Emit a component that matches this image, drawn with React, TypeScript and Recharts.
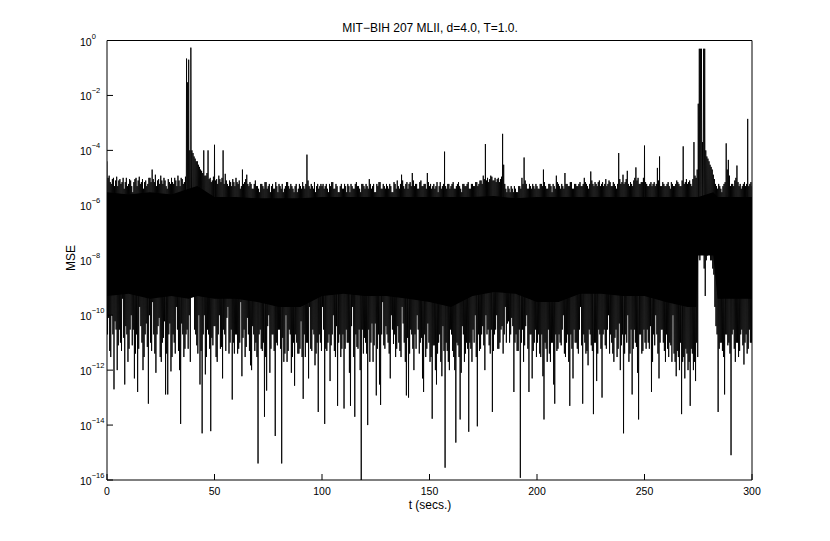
import React from 'react';
import { ComposedChart, Line, Area, XAxis, YAxis } from 'recharts';

const FONT = '"Liberation Sans", Arial, Helvetica, sans-serif';

// upper excursions of the MSE trace, read at t = 0..300 s
const upperA = [
  4e-5, 1.2e-5, 6e-6, 1e-5, 8e-6, 5e-6, 9e-6, 7e-6, 4e-6, 1e-5,
  6e-6, 8e-6, 3e-6, 9e-6, 5e-6, 1.1e-5, 7e-6, 4e-6, 8e-6, 6e-6,
  1e-5, 2e-5, 7e-6, 5e-6, 9e-6, 1.2e-5, 6e-6, 8e-6, 4e-6, 7e-6,
  1e-5, 6e-6, 8e-6, 1.2e-5, 5e-6, 9e-6, 7e-6, 0.22, 0.2, 0.55,
  8e-5, 5e-5, 4e-5, 2.5e-5, 1.8e-5, 1e-4, 1.2e-5, 1e-4, 1e-5, 8e-6,
  1.6e-4, 9e-6, 1.2e-5, 7e-6, 1e-4, 1.4e-5, 6e-6, 8e-6, 5e-6, 7e-6,
  1e-5, 6e-6, 4e-6, 2e-5, 7e-6, 1.3e-5, 5e-6, 6e-6, 4e-6, 8e-6,
  5e-6, 3e-6, 6e-6, 4e-6, 7e-6, 5e-6, 3e-6, 6e-6, 4e-6, 5e-6,
  6e-6, 4e-6, 3e-6, 5e-6, 7e-6, 4e-6, 5e-6, 3e-6, 6e-6, 4e-6,
  5e-6, 7e-6, 4e-6, 7e-5, 5e-6, 6e-6, 4e-6, 3e-6, 6e-6, 5e-6,
  5e-6, 4e-6, 6e-6, 3e-6, 5e-6, 7e-6, 4e-6, 5e-6, 3e-6, 6e-6,
  4e-6, 5e-6, 6e-6, 3e-6, 5e-6, 4e-6, 7e-6, 5e-6, 3e-6, 6e-6,
  4e-6, 5e-6, 9e-6, 4e-6, 6e-6, 3e-6, 5e-6, 7e-6, 4e-6, 5e-6,
  6e-6, 4e-6, 5e-6, 3e-6, 6e-6, 8e-6, 4e-6, 1.3e-5, 5e-6, 6e-6,
  4e-6, 7e-6, 1.5e-5, 5e-6, 6e-6, 4e-6, 8e-6, 5e-6, 6e-6, 1.5e-5,
  5e-6, 4e-6, 6e-6, 5e-6, 3e-6, 7e-6, 5e-6, 9e-5, 4e-6, 6e-6,
  5e-6, 7e-6, 4e-6, 6e-6, 5e-6, 3e-6, 6e-6, 5e-6, 7e-6, 4e-6,
  6e-6, 5e-6, 7e-6, 6e-6, 8e-6, 1.2e-5, 1.7e-4, 1e-5, 9e-6, 1.1e-5,
  8e-6, 7e-6, 1e-5, 9e-6, 4e-4, 6e-6, 3e-6, 4e-6, 5e-6, 3e-6,
  4e-6, 3e-6, 5e-6, 1e-5, 5.5e-5, 6e-6, 4e-6, 5e-6, 6e-6, 4e-6,
  5e-6, 4e-6, 6e-6, 2e-5, 5e-6, 4e-6, 6e-6, 3e-6, 5e-6, 1.2e-5,
  6e-6, 4e-6, 5e-6, 1.5e-5, 6e-6, 5e-6, 7e-6, 4e-6, 6e-6, 5e-6,
  7e-6, 5e-6, 1e-5, 6e-6, 4e-6, 1.7e-5, 6e-6, 7e-6, 5e-6, 8e-6,
  6e-6, 5e-6, 9e-6, 6e-6, 7e-6, 5e-6, 6e-6, 4e-6, 8e-5, 6e-6,
  1.3e-5, 7e-6, 1.8e-5, 5e-6, 6e-6, 8e-6, 2.4e-5, 1e-5, 6e-6, 7e-6,
  1.5e-4, 6e-6, 5e-6, 7e-6, 6e-6, 5e-6, 2.3e-5, 6e-5, 5e-6, 6e-6,
  5e-6, 7e-6, 4e-6, 6e-6, 5e-6, 8e-6, 6e-6, 5e-6, 1.4e-4, 7e-6,
  6e-6, 8e-6, 5e-6, 2e-4, 1e-5, 5e-3, 0.5, 2e-4, 0.5, 6e-5,
  4e-5, 2.5e-5, 1.3e-5, 6e-6, 4e-6, 5e-6, 3e-6, 6e-6, 1.8e-4, 4.5e-5,
  5e-6, 6e-6, 8e-6, 2.8e-5, 5e-6, 4e-6, 6e-6, 5e-6, 1.4e-3, 6e-6,
  5e-6,
];

// lower excursions, read at t + 0.25 s
const lowerA = [
  2e-11, 5e-12, 1e-10, 2e-13, 3e-11, 8e-12, 1e-11, 4e-10, 3e-13, 2e-11,
  6e-12, 1e-10, 3e-11, 4e-12, 1.6e-13, 2e-10, 1e-11, 3e-12, 5e-11, 6e-14,
  1e-11, 3e-10, 4e-12, 2e-11, 8e-11, 2e-12, 1.5e-11, 1.3e-13, 1.3e-13, 5e-11,
  3e-12, 1e-11, 2e-10, 5e-12, 1.1e-14, 2e-11, 6e-12, 3e-11, 1e-10, 1e-6,
  1e-9, 2e-11, 4e-12, 3e-13, 5e-15, 1e-10, 3e-12, 2e-11, 6e-15, 8e-12,
  4e-11, 2e-12, 1e-10, 7e-12, 3e-11, 5e-12, 2e-10, 1e-11, 8.5e-14, 4e-12,
  2e-11, 6e-12, 3e-10, 1.5e-11, 3e-12, 8e-11, 5e-12, 1e-12, 2e-11, 1e-11,
  4e-16, 3e-11, 5e-12, 2e-14, 1.8e-13, 1e-10, 6e-12, 2e-11, 4e-15, 8e-12,
  3e-11, 4e-16, 2e-12, 1e-10, 5e-12, 2e-11, 3e-12, 2.7e-13, 1e-11, 4e-12,
  6e-11, 9e-14, 3e-12, 1e-11, 2e-10, 5e-12, 2e-11, 4e-12, 3e-14, 1e-11,
  2e-10, 1.1e-14, 5e-12, 2e-11, 8e-12, 1e-10, 3e-12, 5e-14, 2e-11, 6e-12,
  4e-14, 3e-11, 1e-11, 5e-14, 2e-10, 2e-14, 7e-12, 3e-11, 1e-16, 4e-12,
  1e-11, 1e-14, 2e-12, 5e-11, 8e-12, 1.2e-13, 2e-11, 5.4e-14, 3e-10, 6e-12,
  2e-11, 4e-12, 1e-10, 9e-12, 3e-12, 4e-11, 5e-12, 2e-10, 1e-11, 1.2e-13,
  1e-13, 3e-11, 6e-12, 2e-11, 1e-10, 4e-12, 1.5e-11, 1.6e-13, 3e-12, 5e-11,
  2e-12, 1.7e-14, 8e-12, 3e-13, 1e-11, 2e-12, 4e-11, 2.8e-16, 5e-12, 1e-12,
  2e-11, 3e-12, 2.3e-15, 8e-12, 1.6e-14, 4e-11, 2e-12, 1e-11, 5.7e-15, 6e-12,
  3e-11, 1e-10, 9e-15, 5e-12, 2e-11, 8e-12, 1e-10, 3e-11, 4e-12, 3e-14,
  2e-11, 1e-10, 6e-12, 3e-11, 4e-12, 2e-10, 5e-11, 1e-11, 8e-11, 1.6e-13,
  2e-11, 5e-12, 1.2e-16, 3e-11, 8e-12, 1e-10, 1.6e-13, 2e-11, 5e-12, 3e-11,
  1e-11, 4e-12, 2e-11, 1.6e-14, 6e-12, 3e-11, 2e-12, 1e-11, 6e-14, 5e-12,
  2e-11, 8e-12, 1e-10, 3e-12, 2e-11, 5e-14, 6e-12, 3e-11, 1e-11, 4e-12,
  2e-10, 6e-14, 1e-11, 5e-12, 3e-11, 8e-12, 2.5e-14, 1e-11, 4e-12, 2e-11,
  1e-13, 3e-11, 6e-12, 1e-10, 2e-11, 4e-12, 1.5e-11, 3e-12, 5e-11, 8e-12,
  5e-15, 2e-11, 1e-10, 4e-12, 1.3e-13, 3e-11, 7e-12, 1.6e-14, 2e-11, 5e-12,
  1e-11, 3e-11, 6e-12, 1.6e-13, 2e-11, 1e-10, 4e-12, 1e-11, 3e-11, 5e-12,
  2e-11, 3e-12, 8e-12, 1e-10, 2e-12, 5e-12, 1e-12, 2.5e-14, 3e-12, 6e-12,
  1e-12, 5e-14, 4e-12, 2e-12, 1e-11, 2e-8, 1e-6, 3e-8, 5e-10, 1.5e-8,
  2e-8, 1e-8, 3e-9, 4e-11, 3e-14, 1e-11, 5e-12, 1.3e-13, 2e-11, 1e-11,
  8e-16, 3e-11, 2e-12, 1e-11, 5e-12, 3e-11, 1.6e-12, 2e-11, 6e-12, 1e-11,
];

// upper excursions, read at t + 0.5 s
const upperB = [
  1e-5, 7e-6, 9e-6, 5e-6, 1.1e-5, 8e-6, 6e-6, 1e-5, 7e-6, 5e-6,
  9e-6, 5e-6, 7e-6, 1e-5, 8e-6, 6e-6, 9e-6, 7e-6, 5e-6, 1e-5,
  7e-6, 9e-6, 1.3e-5, 8e-6, 6e-6, 8e-6, 1e-5, 5e-6, 9e-6, 6e-6,
  7e-6, 1e-5, 5e-6, 8e-6, 1e-5, 6e-6, 1.1e-5, 3e-2, 1e-4, 1e-4,
  6e-5, 4e-5, 3e-5, 2e-5, 1.5e-5, 1.2e-5, 1.5e-5, 9e-6, 7e-6, 1.1e-5,
  8e-6, 6e-6, 9e-6, 1e-5, 6e-6, 8e-6, 5e-6, 7e-6, 9e-6, 5e-6,
  7e-6, 8e-6, 5e-6, 6e-6, 9e-6, 6e-6, 7e-6, 4e-6, 6e-6, 5e-6,
  4e-6, 6e-6, 5e-6, 7e-6, 4e-6, 6e-6, 5e-6, 4e-6, 7e-6, 3e-6,
  5e-6, 6e-6, 4e-6, 7e-6, 5e-6, 6e-6, 4e-6, 5e-6, 3e-6, 6e-6,
  4e-6, 5e-6, 6e-6, 8e-6, 4e-6, 5e-6, 7e-6, 5e-6, 4e-6, 6e-6,
  6e-6, 5e-6, 4e-6, 6e-6, 7e-6, 4e-6, 6e-6, 3e-6, 5e-6, 4e-6,
  6e-6, 3e-6, 5e-6, 6e-6, 4e-6, 6e-6, 5e-6, 4e-6, 6e-6, 5e-6,
  6e-6, 4e-6, 6e-6, 5e-6, 3e-6, 6e-6, 7e-6, 4e-6, 6e-6, 4e-6,
  5e-6, 6e-6, 3e-6, 7e-6, 4e-6, 5e-6, 6e-6, 8e-6, 4e-6, 7e-6,
  6e-6, 5e-6, 8e-6, 6e-6, 4e-6, 7e-6, 5e-6, 6e-6, 4e-6, 7e-6,
  6e-6, 5e-6, 4e-6, 7e-6, 5e-6, 4e-6, 6e-6, 5e-6, 6e-6, 4e-6,
  6e-6, 4e-6, 5e-6, 7e-6, 4e-6, 6e-6, 5e-6, 6e-6, 4e-6, 6e-6,
  5e-6, 7e-6, 5e-6, 8e-6, 6e-6, 9e-6, 8e-6, 7e-6, 1.2e-5, 8e-6,
  1e-5, 9e-6, 7e-6, 1.1e-5, 3e-5, 4e-6, 5e-6, 3e-6, 4e-6, 5e-6,
  3e-6, 5e-6, 4e-6, 6e-6, 8e-6, 4e-6, 6e-6, 4e-6, 5e-6, 6e-6,
  4e-6, 6e-6, 5e-6, 7e-6, 4e-6, 6e-6, 5e-6, 6e-6, 4e-6, 7e-6,
  5e-6, 6e-6, 4e-6, 6e-6, 5e-6, 7e-6, 4e-6, 6e-6, 5e-6, 6e-6,
  5e-6, 6e-6, 7e-6, 5e-6, 6e-6, 8e-6, 5e-6, 6e-6, 7e-6, 5e-6,
  7e-6, 6e-6, 5e-6, 8e-6, 5e-6, 7e-6, 5e-6, 6e-6, 9e-6, 7e-6,
  6e-6, 9e-6, 6e-6, 7e-6, 5e-6, 1e-5, 8e-6, 6e-6, 7e-6, 1e-5,
  7e-6, 5e-6, 6e-6, 5e-6, 7e-6, 6e-6, 8e-6, 5e-6, 7e-6, 5e-6,
  6e-6, 5e-6, 7e-6, 5e-6, 6e-6, 7e-6, 5e-6, 8e-6, 6e-6, 9e-6,
  7e-6, 6e-6, 9e-6, 1.2e-5, 2e-5, 0.5, 0.5, 0.5, 1e-4, 5e-5,
  3e-5, 2e-5, 9e-6, 5e-6, 6e-6, 4e-6, 5e-6, 7e-6, 2e-5, 1.2e-5,
  6e-6, 5e-6, 1e-5, 7e-6, 6e-6, 5e-6, 7e-6, 6e-6, 5e-6, 7e-6,
];

// lower excursions, read at t + 0.75 s
const lowerB = [
  8e-11, 3e-12, 2e-11, 6e-11, 1e-12, 3e-11, 5e-12, 1.5e-11, 4e-11, 2e-12,
  3e-11, 8e-12, 5e-13, 2e-11, 6e-12, 4e-11, 1e-12, 2e-11, 7e-12, 1e-10,
  5e-12, 2e-11, 8e-13, 4e-11, 3e-12, 1e-11, 6e-11, 4e-12, 2e-11, 9e-13,
  2e-11, 4e-12, 3e-11, 1e-12, 5e-11, 3e-12, 2e-11, 6e-12, 2e-12, 5e-9,
  3e-11, 8e-12, 1e-10, 5e-12, 2e-11, 7e-13, 3e-11, 6e-12, 1.5e-11, 4e-11,
  3e-12, 2e-11, 6e-12, 5e-13, 2e-11, 8e-11, 4e-12, 3e-11, 1e-11, 2e-11,
  4e-12, 1e-11, 6e-13, 3e-11, 7e-12, 2e-11, 1.5e-12, 4e-11, 5e-12, 3e-12,
  2e-11, 6e-12, 1e-11, 3e-12, 4e-11, 8e-13, 2e-11, 5e-12, 1e-11, 3e-11,
  6e-12, 1.5e-11, 4e-12, 2e-12, 3e-11, 8e-13, 1e-11, 2e-11, 4e-12, 6e-12,
  3e-12, 2e-11, 1e-11, 5e-13, 6e-12, 3e-11, 1.5e-12, 1e-11, 2e-11, 5e-12,
  3e-11, 6e-12, 1e-11, 4e-13, 2e-11, 5e-12, 4e-11, 1e-11, 3e-12, 2e-11,
  6e-12, 1e-11, 8e-13, 4e-11, 3e-12, 2e-11, 6e-12, 1e-12, 3e-11, 1.5e-11,
  4e-12, 3e-11, 1e-11, 2e-12, 5e-11, 6e-12, 3e-13, 2e-11, 8e-12, 4e-11,
  1e-11, 5e-13, 3e-11, 2e-11, 6e-12, 1e-11, 3e-12, 5e-11, 2e-12, 1.5e-11,
  4e-12, 2e-11, 1e-12, 6e-12, 3e-11, 1e-11, 5e-13, 2e-11, 6e-12, 1e-11,
  3e-12, 8e-12, 1e-12, 4e-12, 2e-11, 6e-13, 5e-12, 1e-11, 2e-12, 3e-11,
  5e-12, 1e-12, 1e-11, 3e-12, 8e-13, 2e-11, 4e-12, 6e-12, 1e-11, 2e-12,
  1e-11, 3e-12, 2e-11, 6e-12, 4e-11, 1e-12, 2e-11, 8e-12, 3e-11, 5e-12,
  3e-11, 6e-12, 1e-11, 4e-11, 2e-11, 1e-11, 6e-11, 2e-11, 4e-11, 1e-11,
  5e-12, 3e-11, 1e-11, 2e-12, 4e-11, 6e-12, 2e-11, 5e-13, 1e-11, 3e-12,
  2e-11, 3e-12, 6e-13, 1e-11, 2e-12, 4e-12, 1e-11, 3e-13, 2e-11, 6e-12,
  1e-11, 3e-11, 4e-12, 1e-11, 2e-12, 2e-11, 5e-13, 1e-11, 6e-12, 3e-11,
  8e-12, 2e-11, 4e-12, 1.5e-12, 2e-11, 5e-12, 1e-11, 4e-13, 3e-11, 6e-12,
  2e-11, 8e-12, 3e-11, 4e-12, 1e-11, 2e-12, 3e-11, 6e-12, 1e-12, 2e-11,
  4e-12, 1e-11, 2e-12, 3e-11, 6e-12, 1e-11, 8e-13, 2e-11, 4e-12, 3e-11,
  6e-12, 1e-11, 4e-11, 2e-12, 8e-12, 2e-11, 5e-13, 3e-11, 1e-11, 2e-12,
  6e-12, 1e-11, 2e-12, 4e-12, 6e-13, 3e-12, 1e-11, 2e-12, 5e-13, 4e-12,
  2e-12, 6e-12, 1e-12, 4e-13, 3e-12, 1e-8, 2e-8, 5e-9, 1e-8, 2e-8,
  1e-8, 5e-9, 2e-10, 2e-11, 6e-12, 1e-11, 3e-12, 2e-11, 8e-12, 4e-12,
  2e-11, 6e-12, 1e-11, 3e-12, 2e-11, 8e-12, 1e-11, 4e-12, 3e-11, 1e-11,
];

const coreT = [
  0, 10, 20, 30, 38, 42, 50, 60, 70, 80,
  90, 100, 110, 120, 130, 140, 150, 160, 170, 180,
  190, 200, 210, 220, 230, 240, 250, 260, 270, 274,
  275, 282, 284, 290, 300,
];
const coreTop = [
  3e-6, 2.5e-6, 3e-6, 2.5e-6, 4e-6, 5e-6, 2e-6, 2e-6, 1.8e-6, 1.8e-6,
  1.8e-6, 2e-6, 2e-6, 2e-6, 2e-6, 2e-6, 2e-6, 2e-6, 2e-6, 2.2e-6,
  1.8e-6, 2e-6, 2e-6, 2e-6, 2e-6, 2e-6, 2e-6, 2e-6, 2e-6, 2e-6,
  2e-6, 3e-6, 2e-6, 2e-6, 2e-6,
];
const coreBottom = [
  5e-10, 6e-10, 4e-10, 5e-10, 4e-10, 5e-10, 4e-10, 4e-10, 3e-10, 2e-10,
  2e-10, 5e-10, 6e-10, 5e-10, 5e-10, 4e-10, 3e-10, 2e-10, 5e-10, 7e-10,
  6e-10, 3e-10, 3e-10, 6e-10, 6e-10, 5e-10, 5e-10, 3e-10, 2e-10, 2e-10,
  1.5e-8, 1.5e-8, 4e-10, 4e-10, 4e-10,
];

const xTicks = [0, 50, 100, 150, 200, 250, 300];
const yTicks = [1, 1e-2, 1e-4, 1e-6, 1e-8, 1e-10, 1e-12, 1e-14, 1e-16];

const title = 'MIT\u2212BIH 207 MLII, d=4.0, T=1.0.';
const xLabel = 't (secs.)';
const yLabel = 'MSE';

const coreMap = new Map<number, [number, number]>();
coreT.forEach((t, i) => coreMap.set(t, [coreBottom[i], coreTop[i]]));

const data: { t: number; mse: number; core?: [number, number] }[] = [];
for (let i = 0; i < upperA.length; i++) {
  data.push({ t: i, mse: upperA[i], core: coreMap.get(i) });
  if (i < upperA.length - 1) {
    data.push({ t: i + 0.25, mse: lowerA[i] });
    data.push({ t: i + 0.5, mse: upperB[i] });
    data.push({ t: i + 0.75, mse: lowerB[i] });
  }
}

const YTick = (props: any) => {
  const { y, payload } = props;
  const e = Math.round(Math.log10(payload.value));
  const exp = e === 0 ? '0' : '\u2212' + String(-e);
  return (
    <text x={80} y={y + 5} fontSize={10.5} fontFamily={FONT} fill="#000">
      10
      <tspan dy={-7} fontSize={7.5}>{exp}</tspan>
    </text>
  );
};

const XTick = (props: any) => {
  const { x, payload } = props;
  return (
    <text x={x} y={494.5} textAnchor="middle" fontSize={10.5} fontFamily={FONT} fill="#000">
      {payload.value}
    </text>
  );
};

export default function App() {
  return (
    <div style={{ position: 'absolute', left: 0, top: 0, width: 830, height: 541, background: '#fff' }}>
      <ComposedChart
        width={830}
        height={541}
        data={data}
        margin={{ top: 39.5, left: 106, right: 77, bottom: 60 }}
      >
        <XAxis
          xAxisId="b"
          dataKey="t"
          type="number"
          domain={[0, 300]}
          ticks={xTicks}
          height={1}
          tickSize={-6}
          tick={<XTick />}
          axisLine={{ stroke: '#000' }}
          tickLine={{ stroke: '#000' }}
          allowDataOverflow
        />
        <XAxis
          xAxisId="top"
          orientation="top"
          dataKey="t"
          type="number"
          domain={[0, 300]}
          ticks={xTicks}
          height={1}
          tickSize={-6}
          tick={false}
          axisLine={{ stroke: '#000' }}
          tickLine={{ stroke: '#000' }}
          allowDataOverflow
        />
        <YAxis
          yAxisId="l"
          type="number"
          scale="log"
          domain={[1e-16, 1]}
          ticks={yTicks}
          width={1}
          tickSize={-6}
          tick={<YTick />}
          axisLine={{ stroke: '#000' }}
          tickLine={{ stroke: '#000' }}
          allowDataOverflow
        />
        <YAxis
          yAxisId="r"
          orientation="right"
          type="number"
          scale="log"
          domain={[1e-16, 1]}
          ticks={yTicks}
          width={1}
          tickSize={-6}
          tick={false}
          axisLine={{ stroke: '#000' }}
          tickLine={{ stroke: '#000' }}
          allowDataOverflow
        />
        <Line
          xAxisId="top"
          yAxisId="r"
          dataKey="mse"
          stroke="none"
          dot={false}
          isAnimationActive={false}
        />
        <Area
          xAxisId="b"
          yAxisId="l"
          dataKey="core"
          type="linear"
          stroke="none"
          fill="#000"
          fillOpacity={1}
          connectNulls
          isAnimationActive={false}
        />
        <Line
          xAxisId="b"
          yAxisId="l"
          dataKey="mse"
          type="linear"
          stroke="#000"
          strokeWidth={0.9}
          dot={false}
          isAnimationActive={false}
        />
      </ComposedChart>
      <svg
        width={830}
        height={541}
        style={{ position: 'absolute', left: 0, top: 0, pointerEvents: 'none' }}
      >
        <text x={430} y={32} textAnchor="middle" fontSize={12} fontFamily={FONT} fill="#000">
          {title}
        </text>
        <text x={430} y={509} textAnchor="middle" fontSize={12} fontFamily={FONT} fill="#000">
          {xLabel}
        </text>
        <text
          x={0}
          y={0}
          transform="translate(75 258) rotate(-90)"
          textAnchor="middle"
          fontSize={12}
          fontFamily={FONT}
          fill="#000"
        >
          {yLabel}
        </text>
      </svg>
    </div>
  );
}
